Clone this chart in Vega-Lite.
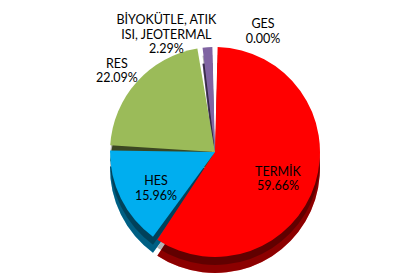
{
  "$schema": "https://vega.github.io/schema/vega-lite/v6.json",
  "width": 414,
  "height": 276,
  "autosize": {"type": "fit", "contains": "padding"},
  "padding": {"top": 40, "bottom": 12, "left": 26, "right": 10},
  "background": "white",
  "config": {"view": {"stroke": null}, "font": "Lato"},
  "data": {
    "values": [
      {"kaynak": "TERMİK", "pay": 59.66, "sira": 1},
      {"kaynak": "HES", "pay": 15.96, "sira": 2},
      {"kaynak": "RES", "pay": 22.09, "sira": 3},
      {"kaynak": "BİYOKÜTLE, ATIK ISI, JEOTERMAL", "pay": 2.29, "sira": 4},
      {"kaynak": "GES", "pay": 0.0, "sira": 5}
    ]
  },
  "transform": [
    {"stack": "pay", "groupby": [], "sort": [{"field": "sira", "order": "ascending"}], "as": ["a0", "a1"]},
    {"calculate": "(datum.a0 + datum.a1) / 2", "as": "orta"},
    {"calculate": "(datum.kaynak == 'BİYOKÜTLE, ATIK ISI, JEOTERMAL' ? 'BİYOKÜTLE, ATIK\\nISI, JEOTERMAL' : datum.kaynak) + '\\n' + format(datum.pay, '.2f') + '%'", "as": "etiket"}
  ],
  "encoding": {
    "color": {
      "field": "kaynak",
      "type": "nominal",
      "legend": null,
      "scale": {
        "domain": ["TERMİK", "HES", "RES", "BİYOKÜTLE, ATIK ISI, JEOTERMAL", "GES"],
        "range": ["#FF0000", "#00AEEF", "#9BBB59", "#8064A2", "#FFFFC8"]
      }
    }
  },
  "layer": [
    {
      "mark": {"type": "arc", "outerRadius": 105, "yOffset": 16, "padAngle": 0.05, "strokeWidth": 0},
      "encoding": {
        "theta": {"field": "a0", "type": "quantitative", "scale": {"domain": [0, 100]}},
        "theta2": {"field": "a1"}
      }
    },
    {
      "mark": {"type": "arc", "outerRadius": 105, "yOffset": 16, "padAngle": 0.05, "fillOpacity": 0.45, "strokeWidth": 0},
      "encoding": {
        "theta": {"field": "a0", "type": "quantitative", "scale": {"domain": [0, 100]}},
        "theta2": {"field": "a1"},
        "color": {"value": "black"}
      }
    },
    {
      "mark": {"type": "arc", "outerRadius": 105, "yOffset": 8, "padAngle": 0.05, "fillOpacity": 0.3, "strokeWidth": 0},
      "encoding": {
        "theta": {"field": "a0", "type": "quantitative", "scale": {"domain": [0, 100]}},
        "theta2": {"field": "a1"},
        "color": {"value": "black"}
      }
    },
    {
      "mark": {"type": "arc", "outerRadius": 105, "padAngle": 0.05, "strokeWidth": 0},
      "encoding": {
        "theta": {"field": "a0", "type": "quantitative", "scale": {"domain": [0, 100]}},
        "theta2": {"field": "a1"}
      }
    },
    {
      "transform": [{"filter": "datum.sira <= 2"}],
      "mark": {"type": "text", "radius": 66, "fontSize": 12.5, "lineBreak": "\n"},
      "encoding": {
        "theta": {"field": "orta", "type": "quantitative", "scale": {"domain": [0, 100]}},
        "text": {"field": "etiket"},
        "color": {"value": "black"}
      }
    },
    {
      "transform": [{"filter": "datum.sira == 3"}],
      "mark": {"type": "text", "radius": 132, "fontSize": 12.5, "lineBreak": "\n"},
      "encoding": {
        "theta": {"field": "orta", "type": "quantitative", "scale": {"domain": [0, 100]}},
        "text": {"field": "etiket"},
        "color": {"value": "black"}
      }
    },
    {
      "transform": [{"filter": "datum.sira == 4"}],
      "mark": {"type": "text", "radius": 120, "dx": -40, "dy": -12, "fontSize": 12.5, "lineBreak": "\n"},
      "encoding": {
        "theta": {"field": "orta", "type": "quantitative", "scale": {"domain": [0, 100]}},
        "text": {"field": "etiket"},
        "color": {"value": "black"}
      }
    },
    {
      "transform": [{"filter": "datum.sira == 5"}],
      "mark": {"type": "text", "radius": 120, "dx": 48, "dy": -8, "fontSize": 12.5, "lineBreak": "\n"},
      "encoding": {
        "theta": {"field": "orta", "type": "quantitative", "scale": {"domain": [0, 100]}},
        "text": {"field": "etiket"},
        "color": {"value": "black"}
      }
    }
  ]
}
